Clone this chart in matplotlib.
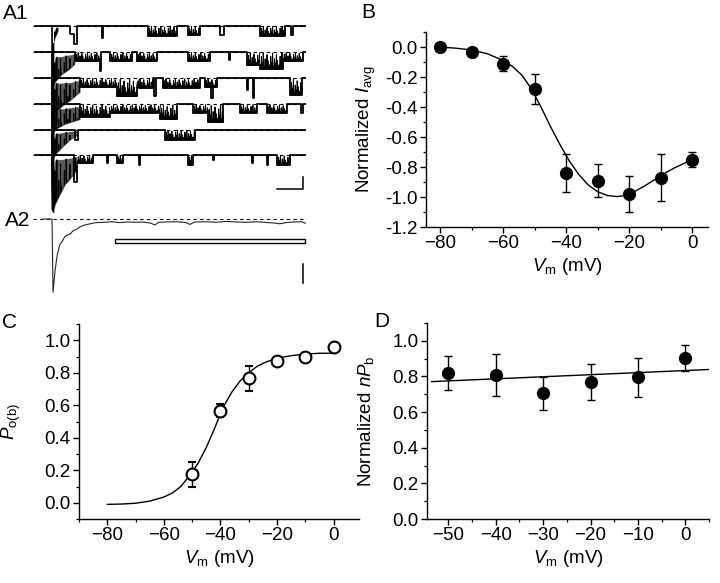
"""Single-channel sweeps and voltage dependence (panels A-D)."""

import matplotlib

matplotlib.use("Agg")
import matplotlib.pyplot as plt
from matplotlib.patches import Rectangle
from matplotlib.ticker import MultipleLocator

plt.rcParams["font.family"] = ["Liberation Sans", "DejaVu Sans"]
plt.rcParams["mathtext.fontset"] = "custom"
plt.rcParams["mathtext.rm"] = "Liberation Sans"
plt.rcParams["mathtext.it"] = "Liberation Sans:italic"
plt.rcParams["font.size"] = 13.5

# ---- panel A1: six sweeps (time in ms, current in pA) ----
SWEEP_START, SWEEP_END = -33, 487
sweep_offsets = [-4.3, -8.7, -13.05, -17.4, -21.6, -25.8]
spike_floor = -35.0

# early activity envelope right after the step: time, lower and upper depth
early_t = [[3, 6, 12], [3, 6, 19, 31, 44], [3, 6, 19, 35, 54], [3, 6, 25, 54],
           [3, 6, 19, 35, 48], [3, 6, 15, 25, 38, 48]]
early_lo = [[1.0, 0.5, 0.2], [2.0, 0.8, 0.7, 0.5, 0.3], [2.0, 0.8, 0.8, 0.7, 0.3],
            [2.0, 0.8, 0.7, 0.3], [2.0, 0.7, 0.5, 0.3, 0.2],
            [2.0, 0.8, 0.8, 0.7, 0.5, 0.3]]
early_hi = [[3.0, 2.0, 0.8], [6.0, 5.0, 3.7, 3.0, 2.0], [6.5, 5.8, 4.7, 3.7, 2.3],
            [5.0, 4.2, 3.3, 2.5], [5.0, 4.2, 3.0, 1.7, 1.0],
            [9.5, 8.3, 6.7, 5.0, 3.7, 2.5]]

# openings: (start ms, end ms, depth pA, flickery burst)
sweep_events = [
    [(35, 48, 1.3, 0), (42, 48, 3.0, 0), (96, 98, 2.0, 0), (185, 240, 1.7, 1),
     (262, 285, 1.6, 1), (323, 331, 1.6, 0), (400, 448, 1.7, 1), (460, 463, 1.6, 0)],
    [(44, 92, 1.5, 1), (92, 95, 3.2, 0), (112, 154, 1.5, 1), (163, 202, 1.5, 1),
     (262, 304, 1.5, 1), (340, 342, 1.3, 0), (375, 400, 2.2, 1), (400, 444, 2.8, 1),
     (444, 483, 1.5, 1)],
    [(54, 125, 1.5, 1), (125, 163, 3.0, 1), (163, 194, 1.6, 1), (196, 200, 3.0, 0),
     (213, 285, 1.6, 1), (294, 317, 1.5, 1), (306, 310, 3.3, 0), (375, 377, 2.0, 0),
     (387, 389, 3.3, 0), (458, 481, 2.8, 1)],
    [(54, 112, 2.1, 1), (112, 208, 1.4, 1), (208, 240, 2.5, 1), (271, 300, 1.4, 1),
     (300, 329, 3.0, 1), (362, 394, 1.4, 1), (413, 452, 1.4, 1), (479, 483, 1.4, 0)],
    [(44, 50, 1.7, 0), (217, 275, 1.7, 1)],
    [(42, 48, 4.5, 0), (48, 79, 1.4, 1), (106, 108, 1.3, 0), (125, 137, 1.4, 1),
     (167, 169, 1.7, 0), (262, 271, 1.7, 1), (310, 312, 0.8, 0), (385, 387, 1.3, 0),
     (413, 415, 1.7, 0), (433, 458, 1.7, 1)],
]

# texture used to draw brief closures inside a flickery burst (fraction of depth)
FLICKER_PATTERN = [0.25, 0.75, 0.4, 0.95, 0.15, 0.6, 0.3, 0.85, 0.5, 0.2]
FLICKER_STEP = 1.8

# ---- panel A2: averaged current ----
a2_offset = -36.5
a2_t = [-17, -4, 0, 2, 6, 10, 15, 21, 25, 29, 35, 40, 48, 54, 63, 73, 85, 100,
        115, 130, 145, 160, 175, 190, 198, 205, 220, 240, 258, 265, 275, 295,
        315, 335, 355, 375, 395, 415, 430, 438, 450, 465, 480, 487]
a2_i = [0, 0, 0, -12.2, -8.5, -6.0, -4.3, -3.5, -2.9, -2.7, -2.5, -2.0, -1.7,
        -1.3, -1.0, -0.8, -0.6, -0.55, -0.45, -0.6, -0.5, -0.55, -0.5, -0.7,
        -1.0, -0.55, -0.5, -0.45, -0.6, -0.9, -0.5, -0.45, -0.55, -0.4, -0.5,
        -0.55, -0.45, -0.6, -0.7, -0.8, -0.6, -0.5, -0.45, -0.7]

# ---- panel B ----
b_vm = [-80, -70, -60, -50, -40, -30, -20, -10, 0]
b_iavg = [0.0, -0.03, -0.11, -0.28, -0.84, -0.89, -0.98, -0.87, -0.75]
b_err = [0.0, 0.0, 0.048, 0.10, 0.125, 0.11, 0.12, 0.157, 0.048]
b_fit_vm = [-80, -75, -70, -65, -60, -57, -54, -51, -48, -45, -42, -39, -36,
            -33, -30, -27, -24, -21, -18, -15, -12, -9, -6, -3, 0]
b_fit_i = [0.0, -0.008, -0.02, -0.045, -0.09, -0.13, -0.19, -0.28, -0.40,
           -0.53, -0.65, -0.76, -0.85, -0.92, -0.965, -0.99, -0.997, -0.99,
           -0.96, -0.925, -0.885, -0.845, -0.81, -0.78, -0.75]

# ---- panel C ----
c_vm = [-50, -40, -30, -20, -10, 0]
c_po = [0.175, 0.565, 0.765, 0.875, 0.90, 0.96]
c_err = [0.075, 0.04, 0.075, 0.012, 0.01, 0.01]
c_fit_vm = [-80, -75, -70, -65, -60, -57, -54, -51, -48, -45, -42, -39, -36,
            -33, -30, -27, -24, -20, -15, -10, -5, 0]
c_fit_po = [-0.01, -0.008, -0.003, 0.01, 0.035, 0.06, 0.10, 0.165, 0.24,
            0.34, 0.46, 0.59, 0.68, 0.75, 0.80, 0.84, 0.865, 0.89, 0.905,
            0.915, 0.92, 0.92]

# ---- panel D ----
d_vm = [-50, -40, -30, -20, -10, 0]
d_npb = [0.82, 0.81, 0.705, 0.77, 0.795, 0.905]
d_err = [0.095, 0.118, 0.094, 0.10, 0.11, 0.073]
d_fit_vm = [-53.5, 5]
d_fit_npb = [0.771, 0.839]

W, H = 720, 583


def px_axes(fig, left, top, right, bottom):
    return fig.add_axes([left / W, 1 - bottom / H, (right - left) / W, (bottom - top) / H])


def style_axes(ax):
    for side in ("top", "right"):
        ax.spines[side].set_visible(False)
    for side in ("left", "bottom"):
        ax.spines[side].set_linewidth(1.0)
    ax.tick_params(which="major", direction="out", length=4.5, width=1.0, pad=1.5)
    ax.tick_params(which="minor", direction="out", length=2.5, width=0.9)


def step_trace(events, offset):
    edges = sorted({SWEEP_START, SWEEP_END, *[e[0] for e in events], *[e[1] for e in events]})
    ts, ys = [], []
    for t0, t1 in zip(edges[:-1], edges[1:]):
        depth = max([e[2] for e in events if e[0] <= t0 and e[1] >= t1], default=0.0)
        ts += [t0, t1]
        ys += [offset - depth, offset - depth]
    return ts, ys


def flicker_texture(t0, t1, depth, offset):
    ts, ys = [], []
    t, k = t0, 0
    while t <= t1:
        ts += [t, t + FLICKER_STEP / 2]
        ys += [offset - depth, offset - depth * (1 - FLICKER_PATTERN[k % len(FLICKER_PATTERN)])]
        t += FLICKER_STEP
        k += 1
    return ts, ys


def draw_panel_a(ax):
    ax.set_xlim((0 - 52) / 0.52, (330 - 52) / 0.52)
    ax.set_ylim(-50, 0)
    ax.axis("off")
    ax.hlines(sweep_offsets + [a2_offset], -36.5, SWEEP_END, colors="k",
              linestyles=(0, (3, 3)), linewidth=0.8)
    for k, off in enumerate(sweep_offsets):
        ts, ys = step_trace(sweep_events[k], off)
        ax.plot(ts, ys, color="k", linewidth=1.3)
        ax.plot([0, 1.5, 3], [off, spike_floor, off - early_hi[k][0]], color="k", linewidth=1.2)
        band = ax.fill_between(early_t[k], [off - v for v in early_lo[k]],
                               [off - v for v in early_hi[k]], color="0.35", linewidth=0)
        # noisy strokes inside the early envelope, clipped to it
        fts, fys = flicker_texture(early_t[k][0], early_t[k][-1],
                                   early_hi[k][0] + 1, off)
        lines = ax.plot(fts, fys, color="k", linewidth=0.7)
        lines[0].set_clip_path(band.get_paths()[0], ax.transData)
        for t0, t1, d, flick in sweep_events[k]:
            if flick:
                fts, fys = flicker_texture(t0, t1, d, off)
                ax.plot(fts, fys, color="k", linewidth=0.7)
    ax.plot(a2_t, [a2_offset + v for v in a2_i], color="0.15", linewidth=0.8)
    # scale bars and stimulus bar
    ax.plot([433, 483, 483], [-31.5, -31.5, -29.5], color="k", linewidth=1.1)
    ax.plot([483, 483], [-44.0, -47.2], color="k", linewidth=1.1)
    ax.add_patch(Rectangle((121, -40.5), 366, 0.67, facecolor="white",
                           edgecolor="k", linewidth=1.0))


def main():
    fig = plt.figure(figsize=(W / 100, H / 100), dpi=100)

    ax_a = px_axes(fig, 0, 0, 330, 300)
    draw_panel_a(ax_a)
    fig.text(3 / W, 1 - 4 / H, "A1", fontsize=15, va="top")
    fig.text(5 / W, 1 - 211 / H, "A2", fontsize=15, va="top")

    # B
    ax_b = px_axes(fig, 426, 32, 708, 227)
    style_axes(ax_b)
    ax_b.plot(b_fit_vm, b_fit_i, color="k", linewidth=1.0)
    ax_b.errorbar(b_vm, b_iavg, yerr=b_err, fmt="o", color="k", markersize=8.5,
                  capsize=3, elinewidth=1.0, capthick=1.0)
    ax_b.set_xlim(-84.5, 5)
    ax_b.set_ylim(-1.2, 0.1)
    ax_b.xaxis.set_major_locator(MultipleLocator(20))
    ax_b.xaxis.set_minor_locator(MultipleLocator(10))
    ax_b.yaxis.set_major_locator(MultipleLocator(0.2))
    ax_b.yaxis.set_minor_locator(MultipleLocator(0.1))
    ax_b.yaxis.set_major_formatter(lambda v, p: f"{v:.1f}")
    ax_b.set_ylabel(r"Normalized $I_{\mathrm{avg}}$")
    ax_b.yaxis.set_label_coords(-0.17, 0.5)
    ax_b.set_xlabel(r"$V_{\mathrm{m}}$ (mV)")
    ax_b.xaxis.set_label_coords(0.5, -0.15)
    fig.text(361 / W, 1 - 3 / H, "B", fontsize=15, va="top")

    # C
    ax_c = px_axes(fig, 79, 324, 359, 519)
    style_axes(ax_c)
    ax_c.plot(c_fit_vm, c_fit_po, color="k", linewidth=1.0)
    ax_c.errorbar(c_vm, c_po, yerr=c_err, fmt="o", color="k", mfc="white",
                  mec="k", mew=1.5, markersize=8.5, capsize=3, elinewidth=1.0,
                  capthick=1.0)
    ax_c.set_xlim(-90, 9)
    ax_c.set_ylim(-0.1, 1.1)
    ax_c.xaxis.set_major_locator(MultipleLocator(20))
    ax_c.xaxis.set_minor_locator(MultipleLocator(10))
    ax_c.yaxis.set_major_locator(MultipleLocator(0.2))
    ax_c.yaxis.set_minor_locator(MultipleLocator(0.1))
    ax_c.yaxis.set_major_formatter(lambda v, p: f"{v:.1f}")
    ax_c.set_ylabel(r"$P_{\mathrm{o(b)}}$")
    ax_c.yaxis.set_label_coords(-0.2, 0.5)
    ax_c.set_xlabel(r"$V_{\mathrm{m}}$ (mV)")
    ax_c.xaxis.set_label_coords(0.5, -0.15)
    fig.text(2 / W, 1 - 313 / H, "C", fontsize=15, va="top")

    # D
    ax_d = px_axes(fig, 427, 323, 709, 519)
    style_axes(ax_d)
    ax_d.plot(d_fit_vm, d_fit_npb, color="k", linewidth=1.0)
    ax_d.errorbar(d_vm, d_npb, yerr=d_err, fmt="o", color="k", markersize=8.5,
                  capsize=3, elinewidth=1.0, capthick=1.0)
    ax_d.set_xlim(-54.5, 5)
    ax_d.set_ylim(0, 1.1)
    ax_d.xaxis.set_major_locator(MultipleLocator(10))
    ax_d.xaxis.set_minor_locator(MultipleLocator(5))
    ax_d.yaxis.set_major_locator(MultipleLocator(0.2))
    ax_d.yaxis.set_minor_locator(MultipleLocator(0.1))
    ax_d.yaxis.set_major_formatter(lambda v, p: f"{v:.1f}")
    ax_d.set_ylabel(r"Normalized $nP_{\mathrm{b}}$")
    ax_d.yaxis.set_label_coords(-0.18, 0.5)
    ax_d.set_xlabel(r"$V_{\mathrm{m}}$ (mV)")
    ax_d.xaxis.set_label_coords(0.5, -0.15)
    fig.text(374 / W, 1 - 312 / H, "D", fontsize=15, va="top")

    fig.savefig("out.png", dpi=100)
    plt.close(fig)


if __name__ == "__main__":
    main()
